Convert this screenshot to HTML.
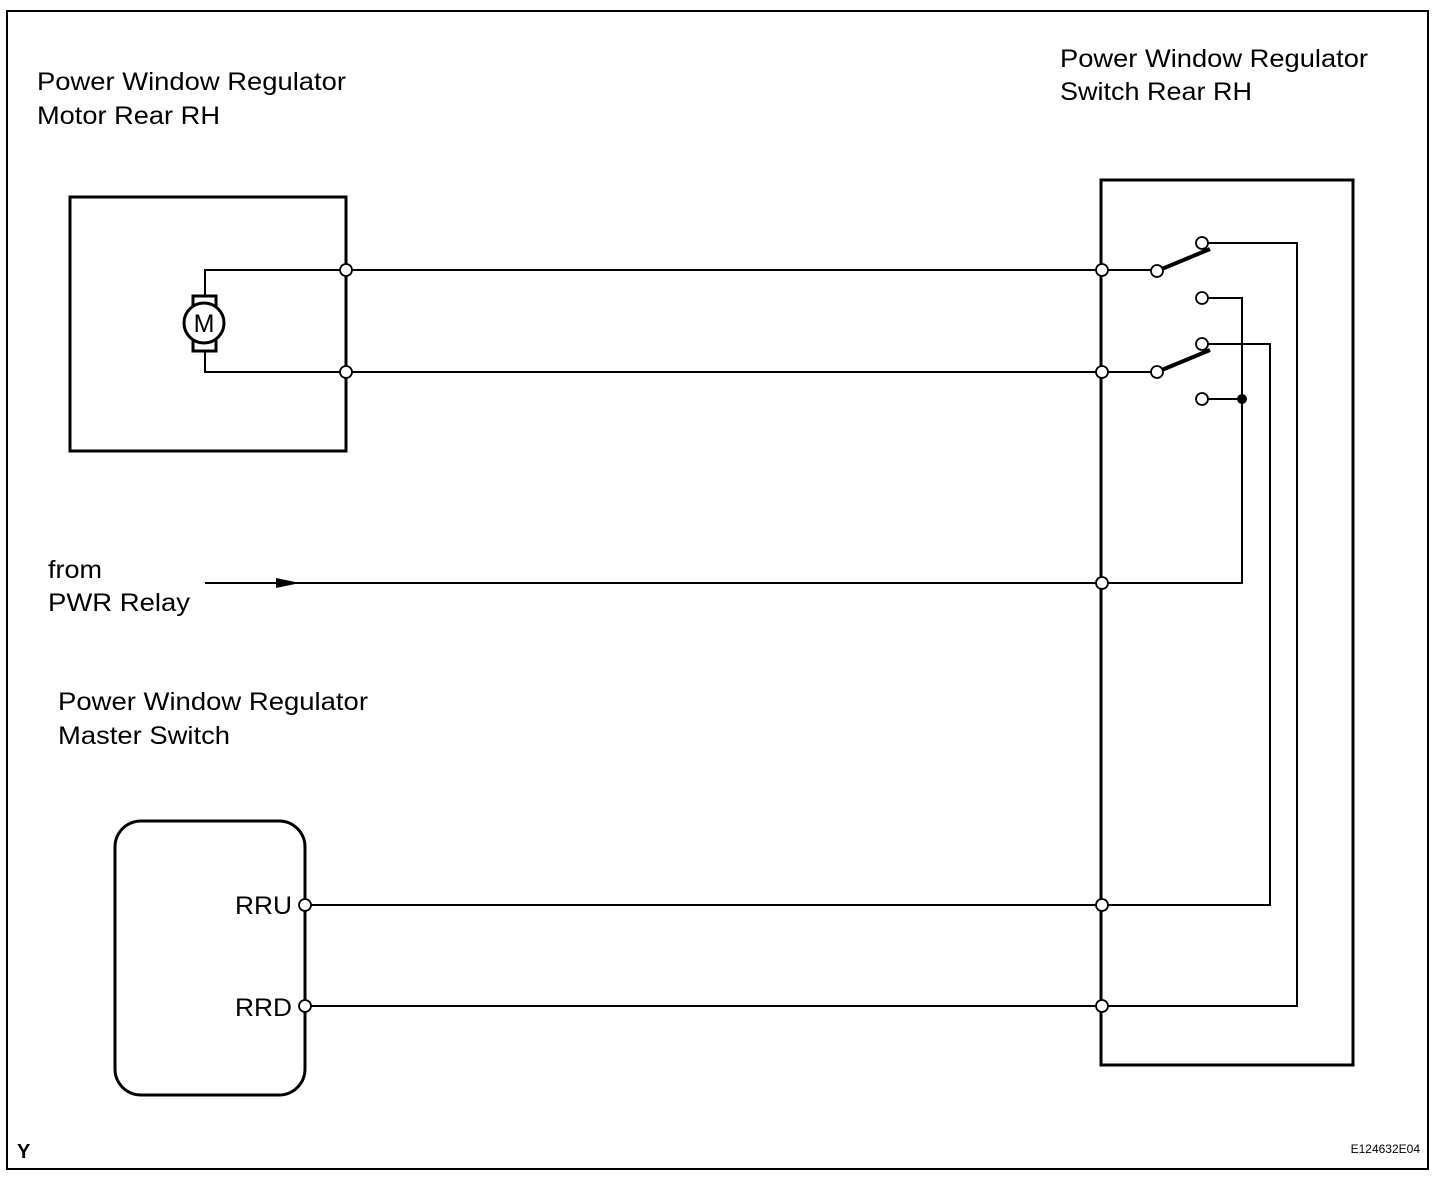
<!DOCTYPE html>
<html><head><style>body{margin:0;background:#fff}svg{display:block}text{font-family:"Liberation Sans",sans-serif;fill:#000}</style></head>
<body>
<svg width="1456" height="1190" viewBox="0 0 1456 1190" xmlns="http://www.w3.org/2000/svg">
<rect x="7" y="11" width="1421" height="1158" fill="none" stroke="#000" stroke-width="2"/>
<g font-size="25">
<text x="37" y="90" textLength="309" lengthAdjust="spacingAndGlyphs">Power Window Regulator</text>
<text x="37" y="124" textLength="183" lengthAdjust="spacingAndGlyphs">Motor Rear RH</text>
<text x="1060" y="67" textLength="308" lengthAdjust="spacingAndGlyphs">Power Window Regulator</text>
<text x="1060" y="100" textLength="192" lengthAdjust="spacingAndGlyphs">Switch Rear RH</text>
<text x="48" y="578" textLength="54" lengthAdjust="spacingAndGlyphs">from</text>
<text x="48" y="611" textLength="142" lengthAdjust="spacingAndGlyphs">PWR Relay</text>
<text x="58" y="710" textLength="310" lengthAdjust="spacingAndGlyphs">Power Window Regulator</text>
<text x="58" y="744" textLength="172" lengthAdjust="spacingAndGlyphs">Master Switch</text>
<text x="235" y="914" textLength="57" lengthAdjust="spacingAndGlyphs">RRU</text>
<text x="235" y="1016" textLength="57" lengthAdjust="spacingAndGlyphs">RRD</text>
</g>
<text x="17" y="1158" font-size="20" font-weight="bold">Y</text>
<text x="1420" y="1153" font-size="12" text-anchor="end">E124632E04</text>
<g fill="none" stroke="#000">
<rect x="70" y="197" width="276" height="254" stroke-width="3"/>
<rect x="1101" y="180" width="252" height="885" stroke-width="3"/>
<rect x="115" y="821" width="190" height="274" rx="26" stroke-width="3"/>
<g stroke-width="2">
<polyline points="346,270 205,270 205,296"/>
<polyline points="346,372 205,372 205,351"/>
<line x1="346" y1="270" x2="1157" y2="270"/>
<line x1="346" y1="372" x2="1157" y2="372"/>
<line x1="205" y1="583" x2="1102" y2="583"/>
<line x1="305" y1="905" x2="1102" y2="905"/>
<line x1="305" y1="1006" x2="1102" y2="1006"/>
<polyline points="1202,243 1297,243 1297,1006 1102,1006"/>
<polyline points="1202,298 1242,298 1242,583 1102,583"/>
<polyline points="1202,344 1270,344 1270,905 1102,905"/>
<line x1="1202" y1="399" x2="1242" y2="399"/>
</g>
<line x1="1157" y1="271" x2="1210" y2="249" stroke-width="4"/>
<line x1="1157" y1="372" x2="1210" y2="350" stroke-width="4"/>
<rect x="193" y="296" width="23" height="55" fill="#fff" stroke-width="3"/>
<circle cx="204" cy="323" r="20" fill="#fff" stroke-width="3"/>
</g>
<text x="204" y="332" font-size="25" text-anchor="middle">M</text>
<polygon points="276,578 300,583 276,588" fill="#000"/>
<circle cx="1242" cy="399" r="5" fill="#000"/>
<g fill="#fff" stroke="#000" stroke-width="1.8">
<circle cx="346" cy="270" r="6"/><circle cx="346" cy="372" r="6"/>
<circle cx="1102" cy="270" r="6"/><circle cx="1102" cy="372" r="6"/><circle cx="1102" cy="583" r="6"/><circle cx="1102" cy="905" r="6"/><circle cx="1102" cy="1006" r="6"/>
<circle cx="305" cy="905" r="6"/><circle cx="305" cy="1006" r="6"/>
<circle cx="1157" cy="271" r="6"/><circle cx="1157" cy="372" r="6"/>
<circle cx="1202" cy="243" r="6"/><circle cx="1202" cy="298" r="6"/><circle cx="1202" cy="344" r="6"/><circle cx="1202" cy="399" r="6"/>
</g>
</svg>
</body></html>
